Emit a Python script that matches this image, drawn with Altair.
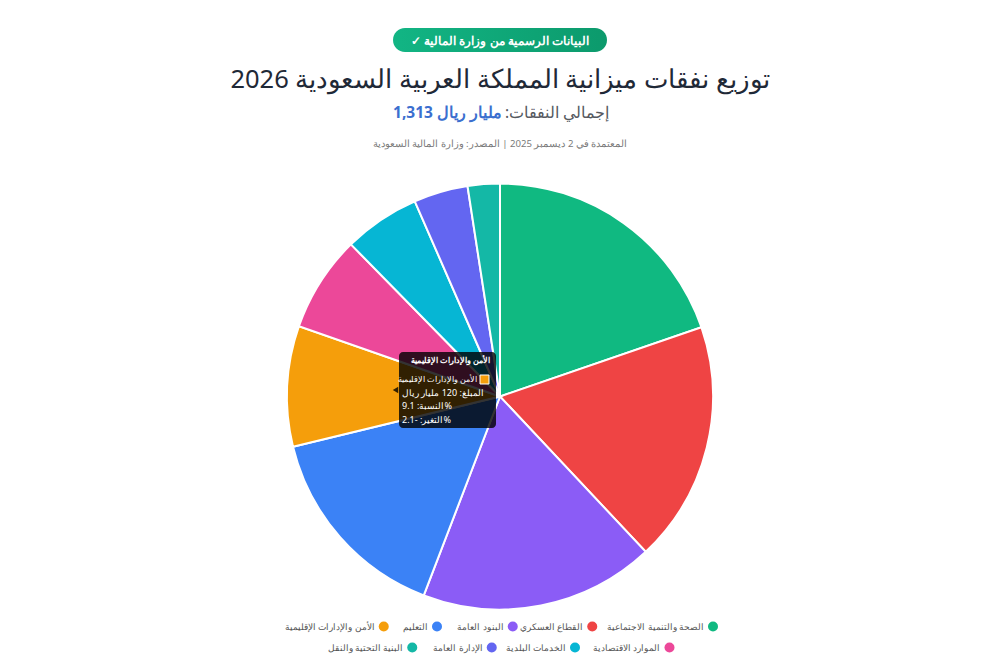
import altair as alt
import pandas as pd

# ---------------- data ----------------
categories = [
    "الصحة والتنمية الاجتماعية",
    "القطاع العسكري",
    "البنود العامة",
    "التعليم",
    "الأمن والإدارات الإقليمية",
    "الموارد الاقتصادية",
    "الخدمات البلدية",
    "الإدارة العامة",
    "البنية التحتية والنقل",
]
values = [259, 240, 234, 202, 120, 96, 76, 54, 32]
colors = ["#10b981", "#ef4444", "#8b5cf6", "#3b82f6", "#f59e0b",
          "#ec4899", "#06b6d4", "#6366f1", "#14b8a6"]
legend_rows = [0, 0, 0, 0, 0, 1, 1, 1, 1]

badge_text = "✓ البيانات الرسمية من وزارة المالية"
title_text = "توزيع نفقات ميزانية المملكة العربية السعودية 2026"
total_label = "إجمالي النفقات:\u200f"
total_value = "1,313 مليار ريال"
note_text = "المعتمدة في 2 ديسمبر 2025 | المصدر: وزارة المالية السعودية"

tip_index = 4
tip_change = -2.1

FONT = "Noto Sans"
W, H = 983, 654
CX, CY, R = 492, 388.5, 213

df = pd.DataFrame({"cat": categories, "value": values, "idx": list(range(len(values)))})
color_scale = alt.Scale(domain=categories, range=colors)

one = pd.DataFrame({"a": [0]})

# badge
badge = alt.Chart(one).mark_rect(
    cornerRadius=12,
    color=alt.Gradient(gradient="linear",
                       stops=[alt.GradientStop(color="#12b584", offset=0),
                              alt.GradientStop(color="#0c9a6c", offset=1)],
                       x1=0, x2=1, y1=0, y2=0),
).encode(x=alt.value(385), x2=alt.value(599), y=alt.value(20), y2=alt.value(44))
badge_t = alt.Chart(one).mark_text(
    text=badge_text, font=FONT, fontSize=12, fontWeight="bold", color="white",
    align="center", baseline="middle",
).encode(x=alt.value(492), y=alt.value(32.5))

title = alt.Chart(one).mark_text(
    text=title_text, font=FONT, fontSize=25.5, color="#1f2937",
    align="center", baseline="middle",
).encode(x=alt.value(492), y=alt.value(72))
sub_a = alt.Chart(one).mark_text(
    text=total_label, font=FONT, fontSize=15.5, color="#55595f",
    align="left", baseline="middle",
).encode(x=alt.value(497), y=alt.value(105))
sub_b = alt.Chart(one).mark_text(
    text=total_value, font=FONT, fontSize=15.5, fontWeight="bold", color="#3b6fcf",
    align="right", baseline="middle",
).encode(x=alt.value(494), y=alt.value(105))
note = alt.Chart(one).mark_text(
    text=note_text, font=FONT, fontSize=9.6, color="#7a7a7a",
    align="center", baseline="middle",
).encode(x=alt.value(492), y=alt.value(136))

pie = alt.Chart(df).mark_arc(radius=R, stroke="white", strokeWidth=2).encode(
    theta=alt.Theta("value:Q", stack=True),
    color=alt.Color("cat:N", scale=color_scale, legend=None),
    order=alt.Order("idx:Q"),
    x=alt.value(CX), y=alt.value(CY),
)

# ---------------- legend (right-to-left rows) ----------------
LEG_FS = 8.8
CHAR_W = 3.75
circle_d, circ_gap, item_gap = 10, 4, 13
row_y = [618.5, 639.5]
rows = []
for r in (0, 1):
    items = [i for i in range(len(categories)) if legend_rows[i] == r]
    widths = [CHAR_W * len(categories[i]) for i in items]
    total = sum(circle_d + circ_gap + w for w in widths) + item_gap * (len(items) - 1)
    right = W / 2 + total / 2
    for i, w in zip(items, widths):
        cxp = right - circle_d / 2
        tx = right - circle_d - circ_gap
        rows.append({"cat": categories[i], "lx": cxp, "tx": tx, "ly": row_y[r]})
        right = tx - w - item_gap
leg = pd.DataFrame(rows)
leg_pts = alt.Chart(leg).mark_point(filled=True, size=100, opacity=1, shape="circle").encode(
    x=alt.X("lx:Q", scale=None), y=alt.Y("ly:Q", scale=None),
    color=alt.Color("cat:N", scale=color_scale, legend=None),
)
leg_txt = alt.Chart(leg).mark_text(font=FONT, fontSize=LEG_FS, color="#555555",
                                   align="right", baseline="middle").encode(
    x=alt.X("tx:Q", scale=None), y=alt.Y("ly:Q", scale=None), text="cat:N",
)

# ---------------- tooltip (hover state) ----------------
tip_cat = categories[tip_index]
tip_val = values[tip_index]
tip_pct = round(100 * tip_val / sum(values), 1)
tip_box = alt.Chart(one).mark_rect(cornerRadius=4, color="black", opacity=0.8).encode(
    x=alt.value(391), x2=alt.value(488), y=alt.value(344), y2=alt.value(420))
tip_arrow = alt.Chart(one).mark_point(shape="triangle-left", filled=True, size=40,
                                      color="black", opacity=0.8).encode(
    x=alt.value(387.5), y=alt.value(382))
tip_title = alt.Chart(one).mark_text(text=tip_cat, font=FONT, fontSize=8.3, fontWeight="bold",
                                     color="white", align="right", baseline="middle").encode(
    x=alt.value(482), y=alt.value(353))
tip_sq = alt.Chart(one).mark_rect(color=colors[tip_index], stroke="white", strokeWidth=1).encode(
    x=alt.value(472), x2=alt.value(481), y=alt.value(367), y2=alt.value(376))
tip_l2 = alt.Chart(one).mark_text(text=tip_cat, font=FONT, fontSize=7.8, color="white",
                                  align="right", baseline="middle").encode(
    x=alt.value(469), y=alt.value(371.5))
tip_lines = [f"المبلغ: {tip_val} مليار ريال", f"النسبة: {tip_pct}%", f"التغير: {tip_change}%"]
tip_body = [alt.Chart(one).mark_text(text=t, font=FONT, fontSize=9, color="white",
                                     align="left", baseline="middle").encode(
    x=alt.value(394), y=alt.value(384.5 + 13.5 * k)) for k, t in enumerate(tip_lines)]

chart = alt.layer(
    badge, badge_t, title, sub_a, sub_b, note, pie, leg_pts, leg_txt,
    tip_box, tip_arrow, tip_title, tip_sq, tip_l2, *tip_body,
).properties(
    width=W, height=H, autosize=alt.AutoSizeParams(type="none"), padding=0,
    background="white",
).configure_view(stroke="transparent", strokeWidth=0)

chart.save("out.html", embed_options={"renderer": "svg", "actions": False})
